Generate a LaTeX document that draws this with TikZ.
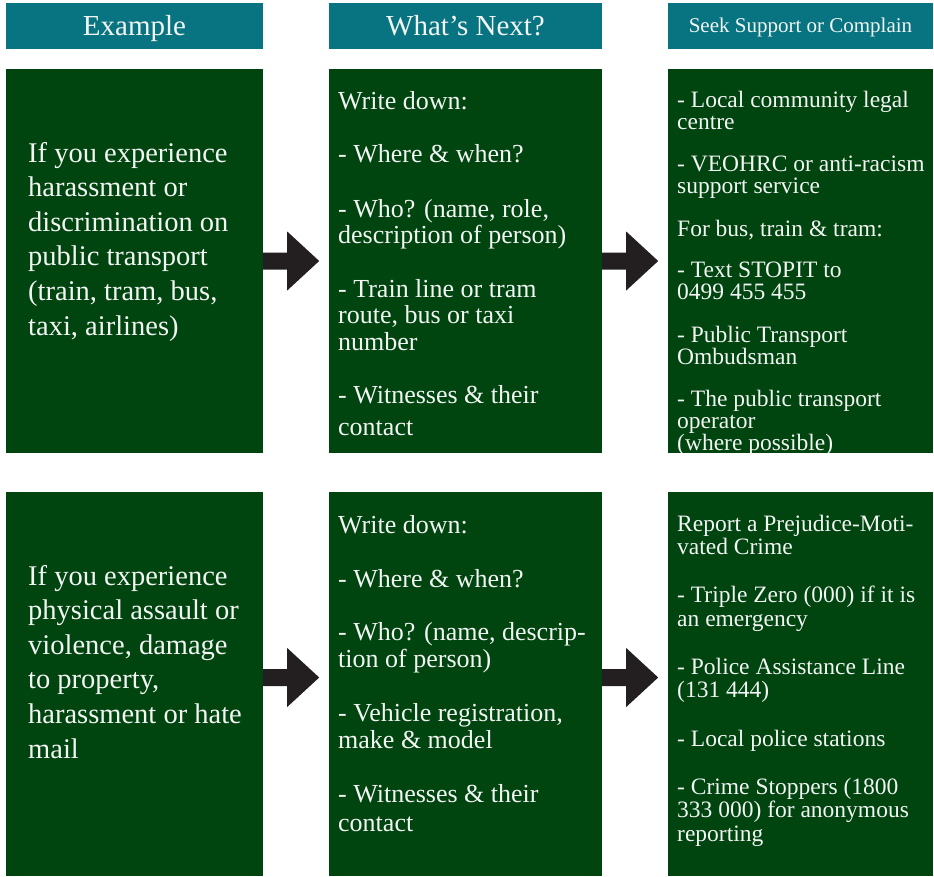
\documentclass[tikz,border=0pt]{standalone}
\usepackage{fontspec}
\setmainfont{Liberation Serif}
\usetikzlibrary{calc}

\definecolor{hdrteal}{RGB}{8,116,129}
\definecolor{cardgreen}{RGB}{0,68,15}
\definecolor{arrowfill}{RGB}{35,31,32}
\definecolor{paletext}{RGB}{242,245,242}

\tikzset{
  hdr/.style={fill=hdrteal, draw=none, minimum width=#1, minimum height=46pt,
    inner sep=0pt, text=paletext},
  card/.style={fill=cardgreen, draw=none, minimum width=#1, minimum height=384pt,
    inner sep=0pt},
  txt/.style={anchor=base west, inner sep=0pt, align=left, text=paletext}
}

\begin{document}
\begin{tikzpicture}[x=1pt,y=-1pt]
\fill[white] (0,0) rectangle (934,876);
\useasboundingbox (0,0) rectangle (934,876);

\node[hdr=257pt, font=\fontsize{29}{34}\selectfont, text height=20pt, text depth=2pt]
  (h1) at (134.5,26) {Example};
\node[hdr=273pt, font=\fontsize{29}{34}\selectfont, text height=20pt, text depth=2pt]
  (h2) at (465.5,26) {What's Next?};
\node[hdr=265pt, font=\fontsize{21}{25}\selectfont, text height=14pt, text depth=2pt]
  (h3) at (800.5,26) {Seek Support or Complain};

\node[card=257pt] (ex1) at (134.5,261) {};
\node[card=273pt] (nx1) at (465.5,261) {};
\node[card=265pt] (sp1) at (800.5,261) {};
\node[card=257pt] (ex2) at (134.5,684) {};
\node[card=273pt] (nx2) at (465.5,684) {};
\node[card=265pt] (sp2) at (800.5,684) {};

\fill[arrowfill] ($(ex1.east)+(0,-8.5)$) -- ++(24,0) -- ++(0,-21) -- ++(32,29.5) -- ++(-32,29.5) -- ++(0,-21) -- ++(-24,0) -- cycle;
\fill[arrowfill] ($(nx1.east)+(0,-8.5)$) -- ++(24,0) -- ++(0,-21) -- ++(32,29.5) -- ++(-32,29.5) -- ++(0,-21) -- ++(-24,0) -- cycle;
\fill[arrowfill] ($(ex2.east)+(0,-15)$) -- ++(24,0) -- ++(0,-21) -- ++(32,29.5) -- ++(-32,29.5) -- ++(0,-21) -- ++(-24,0) -- cycle;
\fill[arrowfill] ($(nx2.east)+(0,-15)$) -- ++(24,0) -- ++(0,-21) -- ++(32,29.5) -- ++(-32,29.5) -- ++(0,-21) -- ++(-24,0) -- cycle;

\node[txt, font=\fontsize{28.5}{34.6}\selectfont] (ex1txt) at (28,335)
  {If you experience\\harassment or\\discrimination on\\public transport\\(train, tram, bus,\\taxi, airlines)};
\node[txt, font=\fontsize{28.5}{34.6}\selectfont] (ex2txt) at (28,758)
  {If you experience\\physical assault or\\violence, damage\\to property,\\harassment or hate\\mail};

\node[txt, font=\fontsize{26}{26.5}\selectfont] (nx1txt) at (338,435.5)
  {Write down:\\[27pt]
   - Where \& when?\\[28pt]
   - Who? (name, role,\\description of person)\\[27pt]
   - Train line or tram\\route, bus or taxi\\number\\[27pt]
   - Witnesses \& their\\[5.5pt]contact};
\node[txt, font=\fontsize{26}{27}\selectfont] (nx2txt) at (338,831)
  {Write down:\\[27pt]
   - Where \& when?\\[26pt]
   - Who? (name, descrip-\\tion of person)\\[27pt]
   - Vehicle registration,\\make \& model\\[27pt]
   - Witnesses \& their\\[2pt]contact};

\node[txt, font=\fontsize{23.5}{22}\selectfont] (sp1txt) at (677,450)
  {- Local community legal\\centre\\[20pt]
   - VEOHRC or anti-racism\\support service\\[21pt]
   For bus, train \& tram:\\[19pt]
   - Text STOPIT to\\0499 455 455\\[21pt]
   - Public Transport\\Ombudsman\\[20pt]
   - The public transport\\operator\\(where possible)};
\node[txt, font=\fontsize{23.5}{23.5}\selectfont] (sp2txt) at (677,841)
  {Report a Prejudice-Moti-\\vated Crime\\[24.5pt]
   - Triple Zero (000) if it is\\an emergency\\[24.5pt]
   - Police Assistance Line\\(131 444)\\[25pt]
   - Local police stations\\[24.5pt]
   - Crime Stoppers (1800\\333 000) for anonymous\\reporting};
\end{tikzpicture}
\end{document}
